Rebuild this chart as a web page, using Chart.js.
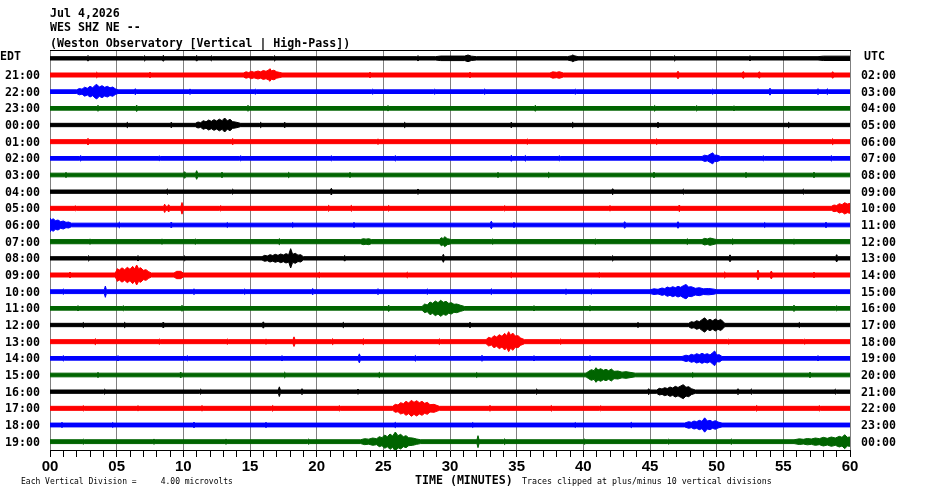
<!DOCTYPE html>
<html>
<head>
<meta charset="utf-8">
<script src="https://cdn.jsdelivr.net/npm/chart.js@4.4.1/dist/chart.umd.min.js"></script>
<style>
  html, body { margin: 0; padding: 0; background: #fff; }
  #wrap { width: 930px; height: 494px; position: relative; }
</style>
</head>
<body>
<div id="wrap"><canvas id="heli"></canvas></div>
<script>
// ---------- data ----------
const headerLines = ['Jul 4,2026', 'WES SHZ NE --', '(Weston Observatory [Vertical | High-Pass])'];

const edtLabels = ['EDT', '21:00', '22:00', '23:00', '00:00', '01:00', '02:00', '03:00', '04:00', '05:00', '06:00', '07:00',
    '08:00', '09:00', '10:00', '11:00', '12:00', '13:00', '14:00', '15:00', '16:00', '17:00', '18:00', '19:00'];
const utcLabels = ['UTC', '02:00', '03:00', '04:00', '05:00', '06:00', '07:00', '08:00', '09:00', '10:00', '11:00', '12:00',
    '13:00', '14:00', '15:00', '16:00', '17:00', '18:00', '19:00', '20:00', '21:00', '22:00', '23:00', '00:00'];

const traceColors = ['#000000', '#ff0000', '#0000ff', '#006400'];

// quiet-band half amplitude per row (tenths of a row spacing)
const baseAmp = [1.0, 1.2, 1.1, 1.1, 1.0, 1.2, 1.1, 1.1, 1.0, 1.2, 1.1, 1.25,
    1.0, 1.2, 1.15, 1.1, 1.0, 1.2, 1.1, 1.1, 1.0, 1.2, 1.15, 1.15];

// event envelopes per row: [minute, half amplitude]
const bursts = [
    [[[28.9, 1.0], [29.3, 1.35], [31.1, 1.35], [31.35, 2.0], [31.6, 1.3], [32, 1.0]],
     [[38.8, 1.0], [39.1, 1.5], [39.2, 2.0], [39.35, 1.5], [39.6, 1.0]],
     [[57.6, 1.0], [58.0, 1.3], [60, 1.3]]],
    [[[14.5, 1.2], [14.7, 1.9], [14.9, 1.5], [15.1, 2.2], [15.3, 1.7], [15.6, 2.4], [15.8, 1.9], [16.0, 2.7], [16.2, 2.2],
      [16.4, 3.0], [16.5, 3.8], [16.6, 2.5], [16.8, 2.9], [17.0, 1.9], [17.2, 1.6], [17.4, 1.2]],
     [[37.5, 1.2], [37.7, 1.9], [38.0, 1.6], [38.2, 2.0], [38.5, 1.2]]],
    [[[2.0, 1.1], [2.2, 1.9], [2.4, 1.5], [2.6, 2.7], [2.8, 2.0], [3.0, 3.2], [3.2, 2.4], [3.4, 3.9], [3.5, 4.4], [3.7, 2.8],
      [3.9, 3.6], [4.1, 2.6], [4.3, 3.2], [4.5, 2.3], [4.7, 2.8], [4.9, 1.7], [5.1, 1.1]]],
    [],
    [[[10.9, 1.0], [11.1, 1.8], [11.3, 1.4], [11.5, 2.6], [11.7, 1.9], [11.9, 3.0], [12.1, 2.2], [12.3, 3.2], [12.5, 2.4],
      [12.7, 3.5], [12.9, 2.6], [13.1, 4.2], [13.3, 2.5], [13.5, 3.4], [13.7, 2.0], [13.9, 1.8], [14.1, 1.4], [14.3, 1.0]]],
    [],
    [[[48.9, 1.1], [49.1, 1.9], [49.3, 1.5], [49.5, 2.4], [49.7, 3.3], [49.85, 1.8], [50.0, 2.0], [50.3, 1.1]]],
    [],
    [],
    [[[58.6, 1.2], [58.8, 2.0], [59.0, 1.7], [59.2, 2.8], [59.4, 2.2], [59.6, 3.4], [59.8, 2.6], [60, 3.0]]],
    [[[0, 4.2], [0.1, 3.0], [0.25, 3.8], [0.4, 2.6], [0.6, 3.0], [0.8, 2.0], [1.0, 2.4], [1.2, 1.6], [1.4, 1.8], [1.6, 1.1]]],
    [[[23.3, 1.25], [23.5, 1.8], [23.7, 1.5], [23.9, 1.8], [24.1, 1.25]],
     [[29.2, 1.25], [29.35, 2.4], [29.5, 1.8], [29.6, 3.0], [29.8, 1.8], [30.1, 1.25]],
     [[48.9, 1.25], [49.1, 2.0], [49.3, 1.6], [49.5, 2.2], [49.8, 1.6], [50.0, 1.25]]],
    [[[15.9, 1.0], [16.1, 1.8], [16.3, 1.4], [16.5, 2.2], [16.7, 1.7], [16.9, 2.4], [17.1, 1.8], [17.3, 2.6], [17.5, 2.0],
      [17.7, 2.8], [17.9, 2.2], [18.05, 5.8], [18.2, 2.4], [18.4, 3.0], [18.6, 1.9], [18.8, 2.2], [19.0, 1.0]]],
    [[[4.9, 1.2], [5.05, 3.8], [5.2, 3.0], [5.4, 4.3], [5.6, 3.2], [5.8, 4.6], [6.0, 3.4], [6.2, 5.2], [6.35, 3.6],
      [6.5, 6.0], [6.65, 3.8], [6.8, 4.4], [7.0, 2.8], [7.2, 3.2], [7.4, 2.0], [7.6, 1.2]],
     [[9.3, 1.2], [9.5, 2.2], [9.8, 2.2], [10.0, 1.2]]],
    [[[45.0, 1.15], [45.3, 1.7], [45.6, 1.4], [45.9, 2.2], [46.1, 1.8], [46.3, 2.8], [46.5, 2.2], [46.7, 3.0], [46.9, 2.4],
      [47.1, 3.2], [47.3, 2.6], [47.5, 3.6], [47.7, 4.3], [47.9, 2.8], [48.1, 3.0], [48.4, 2.0], [48.7, 2.4], [49.0, 1.7],
      [49.4, 1.9], [49.8, 1.5], [50.0, 1.15]]],
    [[[27.9, 1.1], [28.1, 2.6], [28.3, 2.0], [28.5, 3.8], [28.7, 3.0], [28.9, 4.4], [29.1, 3.4], [29.3, 4.8], [29.5, 3.6],
      [29.7, 4.2], [29.9, 3.0], [30.1, 3.4], [30.3, 2.4], [30.5, 2.6], [30.8, 1.8], [31.1, 1.1]]],
    [[[47.9, 1.0], [48.1, 2.0], [48.3, 1.6], [48.5, 2.6], [48.7, 2.0], [48.9, 3.2], [49.1, 4.3], [49.3, 2.6], [49.5, 3.4],
      [49.7, 2.5], [49.9, 3.6], [50.1, 2.6], [50.3, 3.3], [50.5, 2.0], [50.6, 1.0]]],
    [[[32.7, 1.2], [32.9, 2.6], [33.1, 2.0], [33.3, 3.6], [33.5, 2.8], [33.7, 4.2], [33.9, 3.2], [34.1, 5.0], [34.25, 3.6],
      [34.4, 6.0], [34.55, 3.8], [34.7, 5.2], [34.9, 3.4], [35.1, 3.6], [35.3, 2.2], [35.6, 1.2]]],
    [[[47.4, 1.1], [47.7, 1.9], [47.9, 1.5], [48.1, 2.4], [48.3, 1.9], [48.5, 2.8], [48.7, 2.2], [48.9, 3.0], [49.1, 2.3],
      [49.3, 2.8], [49.5, 2.0], [49.7, 3.4], [49.85, 4.4], [50.0, 2.0], [50.2, 2.2], [50.4, 1.1]]],
    [[[40.2, 1.1], [40.4, 2.2], [40.6, 3.2], [40.8, 2.6], [40.95, 4.4], [41.1, 3.0], [41.3, 3.8], [41.5, 2.8], [41.7, 3.4],
      [41.9, 2.6], [42.1, 3.6], [42.3, 2.2], [42.6, 2.4], [42.9, 1.7], [43.2, 2.0], [43.5, 1.6], [43.9, 1.1]]],
    [[[45.5, 1.0], [45.7, 2.0], [45.9, 1.6], [46.1, 2.4], [46.3, 1.9], [46.5, 2.8], [46.7, 2.2], [46.9, 3.2], [47.1, 2.5],
      [47.3, 3.4], [47.5, 4.2], [47.7, 2.6], [47.9, 3.0], [48.1, 1.8], [48.4, 1.0]]],
    [[[25.7, 1.2], [25.9, 2.4], [26.1, 2.0], [26.3, 3.4], [26.5, 2.8], [26.7, 4.2], [26.9, 3.2], [27.1, 4.8], [27.3, 3.6],
      [27.5, 4.6], [27.7, 3.4], [27.9, 4.2], [28.1, 3.0], [28.3, 3.6], [28.5, 2.2], [28.8, 2.4], [29.2, 1.2]]],
    [[[47.6, 1.15], [47.9, 2.0], [48.1, 1.6], [48.3, 2.4], [48.5, 2.0], [48.7, 2.8], [48.9, 2.2], [49.1, 4.3], [49.3, 2.4],
      [49.5, 2.8], [49.7, 2.0], [49.9, 2.6], [50.1, 1.8], [50.4, 1.15]]],
    [[[23.3, 1.15], [23.6, 1.8], [23.9, 1.5], [24.2, 2.2], [24.5, 1.8], [24.7, 3.0], [24.9, 2.4], [25.1, 4.0], [25.3, 3.0],
      [25.5, 4.6], [25.7, 3.4], [25.9, 5.8], [26.1, 3.6], [26.3, 4.4], [26.5, 3.0], [26.7, 3.6], [26.9, 2.4], [27.2, 2.2],
      [27.5, 1.6], [27.8, 1.15]],
     [[55.8, 1.15], [56.2, 1.7], [56.5, 1.4], [56.8, 1.9], [57.1, 1.6], [57.4, 2.2], [57.7, 1.8], [58.0, 2.6], [58.3, 2.0],
      [58.6, 2.8], [58.9, 2.2], [59.2, 3.2], [59.4, 2.6], [59.6, 4.2], [59.8, 2.6], [60, 2.8]]]
];

// isolated spikes per row: [minute, half amplitude]
const spikes = [
    [[2.85, 1.7], [7.1, 1.6], [8.5, 1.8], [11, 1.7], [12.1, 1.5], [16.85, 1.6], [27.6, 1.6], [46.85, 1.6], [52.5, 1.5]],
    [[3.5, 1.7], [7.5, 1.6], [24, 1.6], [31.5, 1.6], [47.1, 2.3], [52, 2.1], [53.2, 2.0], [58.7, 2.0]],
    [[6.4, 1.8], [10.5, 1.6], [15.4, 1.5], [24.2, 1.5], [28.85, 1.5], [32.6, 1.6], [39.4, 1.5], [49.7, 1.5], [54, 2.1], [57.6, 1.8], [58.3, 1.7]],
    [[3.6, 1.8], [6.5, 1.9], [14.85, 1.8], [25.35, 1.6], [36.4, 1.8], [45.35, 1.7], [48.5, 1.6], [51.3, 1.4]],
    [[5.8, 1.6], [9.1, 1.7], [15.8, 1.6], [17.6, 1.7], [26.6, 1.6], [34.6, 1.7], [39.2, 1.6], [45.6, 1.7], [55.4, 1.6]],
    [[2.85, 2.0], [13.7, 1.9], [24.6, 1.6], [35.8, 1.6], [45.5, 1.7], [58.7, 1.8]],
    [[2.3, 1.6], [8.2, 1.4], [14.3, 1.5], [21.1, 1.5], [25.9, 1.6], [34.6, 1.8], [35.65, 1.7], [38.2, 1.5], [53.5, 1.5], [58.6, 1.6]],
    [[1.2, 1.5], [10.1, 2.0], [11.0, 2.6], [12.9, 1.6], [17.9, 1.6], [22.5, 1.5], [33.6, 1.5], [37.4, 1.6], [45.3, 1.6], [52.2, 1.5], [57.3, 1.6]],
    [[8.8, 1.6], [13.7, 1.5], [21.1, 2.0], [27.6, 1.6], [42.2, 1.8], [47.5, 1.5], [56.5, 1.5]],
    [[1.9, 1.5], [8.6, 2.5], [8.9, 2.2], [9.9, 3.5], [12.8, 1.6], [20.9, 1.8], [22.6, 1.8], [25.4, 1.7], [34.1, 1.6], [42.0, 1.6], [47.2, 2.0]],
    [[5.2, 1.7], [9.1, 1.8], [13.3, 1.5], [18.2, 1.5], [22.8, 1.5], [33.1, 2.3], [34.8, 1.5], [43.1, 2.0], [47.1, 2.0], [53.6, 1.5], [58.2, 1.6]],
    [[3.0, 1.5], [8.4, 1.5], [10.9, 1.6], [17.2, 1.8], [33.2, 1.6], [40.9, 1.6], [47.8, 1.7], [51.2, 1.7], [55.8, 1.5]],
    [[2.9, 1.6], [6.6, 1.6], [10.1, 1.5], [22.1, 1.7], [29.5, 2.4], [42.2, 1.6], [51.0, 2.1], [59.0, 2.2]],
    [[1.5, 1.7], [20.2, 1.6], [26.8, 1.7], [34.6, 1.6], [41.2, 1.5], [50.6, 1.8], [53.1, 3.0], [54.1, 2.4], [57.3, 1.6]],
    [[1.0, 1.6], [4.15, 3.4], [10.8, 1.7], [14.6, 1.6], [19.7, 1.9], [24.6, 1.8], [28.3, 1.6], [33.1, 1.7], [38.7, 1.6], [40.6, 1.5]],
    [[2.1, 1.5], [5.5, 1.5], [9.9, 1.8], [25.4, 1.9], [36.3, 1.5], [40.5, 1.6], [55.8, 1.9], [59, 1.5]],
    [[2.5, 1.5], [5.6, 1.6], [8.5, 1.8], [16.0, 1.9], [22.0, 1.6], [31.5, 1.6], [44.1, 1.5], [56.2, 1.5]],
    [[3.4, 1.8], [8.2, 1.6], [13.3, 1.6], [16.2, 1.5], [18.3, 2.9], [21.2, 1.8], [23.5, 1.8], [29.2, 1.7], [38.3, 1.6], [50.9, 1.5], [56.6, 1.5]],
    [[1.0, 1.6], [5.1, 1.5], [10.3, 1.5], [17.4, 1.5], [23.2, 2.7], [27.4, 1.7], [32.4, 1.8], [36.3, 1.5], [40.5, 1.6], [57.6, 1.5]],
    [[3.6, 1.5], [9.8, 1.8], [17.6, 1.7], [24.7, 1.6], [32.0, 1.5], [48.2, 1.5], [57.0, 1.6]],
    [[4.1, 1.5], [11.3, 1.5], [17.2, 2.9], [18.9, 1.8], [23.1, 1.5], [36.5, 1.6], [44.9, 1.8], [51.6, 1.8], [52.6, 1.6], [58.9, 1.5]],
    [[2.5, 1.6], [6.6, 1.5], [11.4, 1.6], [16.7, 1.7], [21.7, 1.6], [33.0, 1.7], [37.6, 1.7], [41.3, 1.5], [53.0, 1.7], [57.7, 1.6]],
    [[0.9, 1.5], [4.7, 1.5], [10.8, 1.6], [16.2, 1.5], [25.9, 1.6], [31.7, 1.5], [39.4, 1.5], [43.6, 1.6]],
    [[2.5, 1.5], [7.8, 1.5], [13.2, 1.5], [19.4, 1.6], [32.1, 3.6], [34.1, 1.7], [40.1, 1.6], [46.4, 1.5], [51.1, 1.6]]
];

const minuteTicks = 60;

// ---------- build envelope datasets ----------
function envelope(row) {
    const b = baseAmp[row];
    const pts = [];
    bursts[row].forEach(burst => pts.push(...burst));
    spikes[row].forEach(([m, a]) => pts.push([m - 0.08, b], [m, a], [m + 0.08, b]));
    pts.sort((p, q) => p[0] - q[0]);
    if (!pts.length || pts[0][0] > 0) pts.unshift([0, b]);
    if (pts[pts.length - 1][0] < minuteTicks) pts.push([minuteTicks, b]);
    return pts;
}

const datasets = [];
edtLabels.forEach((_, row) => {
    const color = traceColors[row % traceColors.length];
    const centre = row + 0.5;
    const env = envelope(row);
    const common = {
        borderColor: color, backgroundColor: color, borderWidth: 1,
        pointRadius: 0, tension: 0, xAxisID: 'x', yAxisID: 'y'
    };
    datasets.push({ ...common, fill: false, data: env.map(([m, a]) => ({ x: m, y: centre - a / 10 })) });
    datasets.push({ ...common, fill: '-1', data: env.map(([m, a]) => ({ x: m, y: centre + a / 10 })) });
});

const monoBold = { family: '"DejaVu Sans Mono", monospace', size: 11.6, weight: 'bold' };

function rowTicks(axis) {
    axis.ticks = edtLabels.map((_, i) => ({ value: i + 0.5 }));
}

// ---------- extra text (header, footer, corner labels) ----------
const textPlugin = {
    id: 'heliText',
    afterDraw(chart) {
        const ctx = chart.ctx;
        ctx.save();
        ctx.fillStyle = '#000';
        ctx.textAlign = 'left';
        ctx.textBaseline = 'alphabetic';
        ctx.font = 'bold 11.6px "DejaVu Sans Mono", monospace';
        [16.5, 31, 46.5].forEach((y, k) => ctx.fillText(headerLines[k], 50, y));

        const y0 = chart.scales.y.getPixelForValue(0.5);
        ctx.textBaseline = 'middle';
        ctx.fillText(edtLabels[0], 0, y0 - 1.5);
        ctx.fillText(utcLabels[0], 864, y0 - 1.5);

        ctx.textBaseline = 'alphabetic';
        ctx.fillText('TIME (MINUTES)', 415, 483.5);
        ctx.font = '8px "DejaVu Sans Mono", monospace';
        ctx.fillText('Each Vertical Division =     4.00 microvolts', 21, 483.5);
        ctx.font = '8.3px "DejaVu Sans Mono", monospace';
        ctx.fillText('Traces clipped at plus/minus 10 vertical divisions', 522, 483.5);
        ctx.restore();
    }
};

new Chart(document.getElementById('heli'), {
    type: 'line',
    data: { datasets },
    options: {
        responsive: true,
        maintainAspectRatio: false,
        animation: false,
        layout: { padding: { top: 50, left: 0, right: 0, bottom: 0 } },
        plugins: { legend: { display: false }, tooltip: { enabled: false }, title: { display: false } },
        scales: {
            x: {
                type: 'linear', position: 'bottom', min: 0, max: minuteTicks,
                afterFit: s => { s.height = 44; },
                ticks: {
                    stepSize: 1, autoSkip: false, maxRotation: 0, padding: 1, color: '#000',
                    font: { family: '"Liberation Sans Narrow", "Liberation Sans", sans-serif', size: 15, weight: 'bold' },
                    callback: v => (v % 5 === 0 ? String(v).padStart(2, '0') : '')
                },
                grid: { drawOnChartArea: false, drawTicks: true, tickLength: 7, color: '#000', lineWidth: 1 },
                border: { display: true, color: '#000', width: 1 }
            },
            xg: {
                type: 'linear', position: 'top', min: 0, max: minuteTicks, z: 1,
                afterFit: s => { s.height = 0; },
                ticks: { stepSize: 5, display: false },
                grid: { color: '#808080', lineWidth: 1, drawTicks: false },
                border: { display: true, color: '#000', width: 1 }
            },
            y: {
                type: 'linear', position: 'left', min: 0, max: edtLabels.length, reverse: true,
                afterFit: s => { s.width = 50; },
                afterBuildTicks: rowTicks,
                ticks: { autoSkip: false, padding: 2, labelOffset: 1, color: '#000', font: monoBold,
                    callback: (v, i) => (i === 0 ? '' : edtLabels[i]) },
                grid: { display: false },
                border: { display: false }
            },
            y2: {
                type: 'linear', position: 'right', min: 0, max: edtLabels.length, reverse: true,
                afterFit: s => { s.width = 80; },
                afterBuildTicks: rowTicks,
                ticks: { autoSkip: false, padding: 3, labelOffset: 1, color: '#000', font: monoBold,
                    callback: (v, i) => (i === 0 ? '' : utcLabels[i]) },
                grid: { display: false },
                border: { display: false }
            }
        }
    },
    plugins: [textPlugin]
});
</script>
</body>
</html>
